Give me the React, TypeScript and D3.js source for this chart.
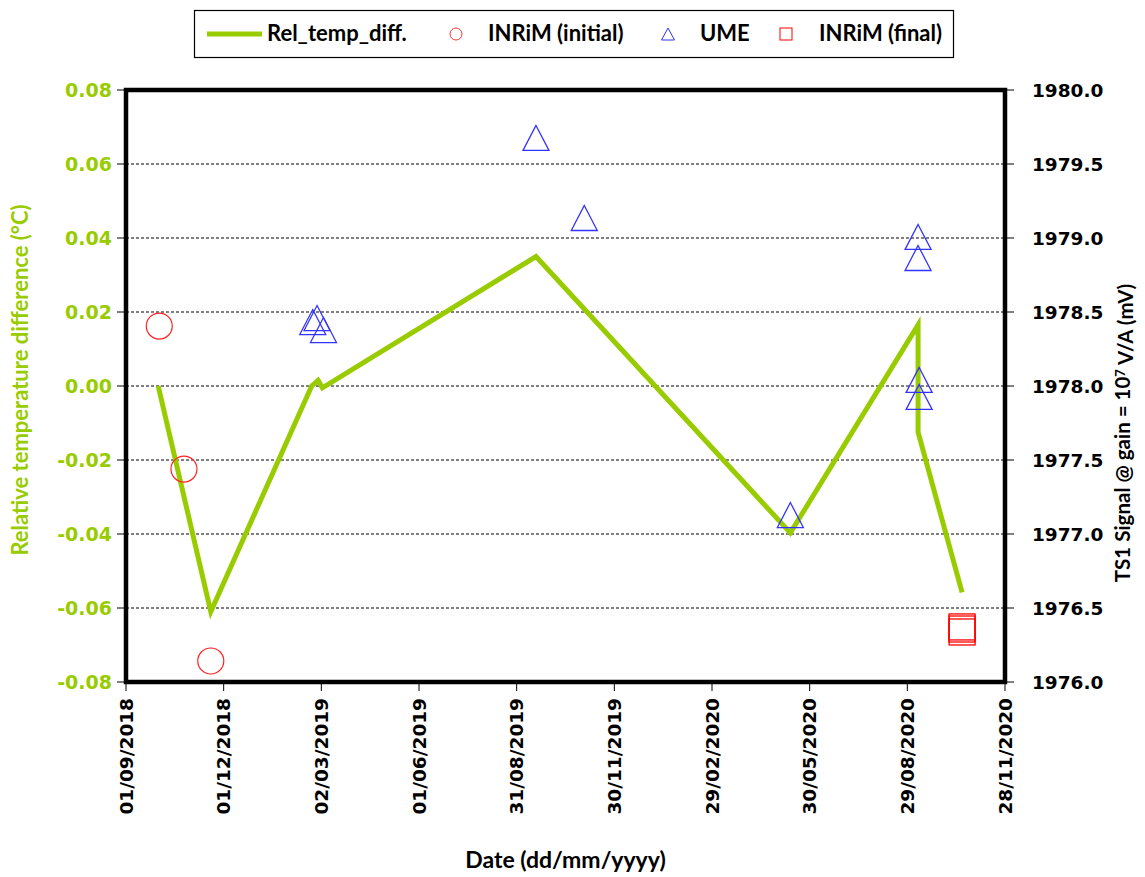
import React from "react";
import * as d3 from "d3";

// Rel_temp_diff. line (left axis, °C)
const lineDates = ["2018-10-01", "2018-11-19", "2019-02-21", "2019-02-27", "2019-03-03", "2019-09-18", "2020-05-12", "2020-09-08", "2020-09-08", "2020-10-19"];
const lineValues = [0.0, -0.061, 0.0, 0.0015, -0.0005, 0.035, -0.0397, 0.0165, -0.0125, -0.0558];

// Markers (right axis, mV)
const inrimInitialDates = ["2018-10-02", "2018-10-25", "2018-11-19"];
const inrimInitialValues = [1978.405, 1977.439, 1976.142];

const umeDates = ["2019-02-22", "2019-02-26", "2019-03-04", "2019-09-18", "2019-11-02", "2020-05-12", "2020-09-08", "2020-09-08", "2020-09-09", "2020-09-09"];
const umeValues = [1978.432, 1978.459, 1978.378, 1979.676, 1979.135, 1977.128, 1979.007, 1978.865, 1978.041, 1977.926];

const inrimFinalDates = ["2020-10-19", "2020-10-19", "2020-10-19"];
const inrimFinalValues = [1976.372, 1976.358, 1976.338];

const leftTicks = [0.08, 0.06, 0.04, 0.02, 0.0, -0.02, -0.04, -0.06, -0.08];
const rightTicks = [1980.0, 1979.5, 1979.0, 1978.5, 1978.0, 1977.5, 1977.0, 1976.5, 1976.0];
const xTickLabels = ["01/09/2018", "01/12/2018", "02/03/2019", "01/06/2019", "31/08/2019", "30/11/2019", "29/02/2020", "30/05/2020", "29/08/2020", "28/11/2020"];

const GREEN = "#99CC00";
const TICK_FONT = "'DejaVu Sans', Verdana, sans-serif";
const TITLE_FONT = "Lato, 'Liberation Sans', Arial, sans-serif";

const parseISO = d3.utcParse("%Y-%m-%d");
const parseDMY = d3.utcParse("%d/%m/%Y");

export default function App() {
  const W = 1145, H = 877;
  const L = 126, R = 1005, T = 90, B = 682;

  const x = d3.scaleUtc()
    .domain([parseDMY(xTickLabels[0])!, parseDMY(xTickLabels[xTickLabels.length - 1])!])
    .range([L, R]);
  const yL = d3.scaleLinear().domain([-0.08, 0.08]).range([B, T]);
  const yR = d3.scaleLinear().domain([1976, 1980]).range([B, T]);

  const linePts: [number, number][] = lineDates.map((d, i) => [x(parseISO(d)!), yL(lineValues[i])]);
  const linePath = d3.line()(linePts) || "";

  const tri = (cx: number, cy: number, w: number, h: number) =>
    `M${cx},${cy - h / 2}L${cx + w / 2},${cy + h / 2}L${cx - w / 2},${cy + h / 2}Z`;

  const legendText = { fontFamily: TITLE_FONT, fontWeight: 700, fontSize: 22, fill: "#000" } as const;

  return (
    <div style={{ position: "absolute", left: 0, top: 0 }}>
      <svg width={W} height={H} style={{ display: "block", background: "#fff" }}>
        {/* Legend */}
        <g>
          <rect x={194.5} y={10.5} width={759} height={47} fill="#fff" stroke="#000" strokeWidth={1.2} />
          <line x1={207} x2={262} y1={34} y2={34} stroke={GREEN} strokeWidth={5} />
          <text x={267} y={41} {...legendText}>Rel_temp_diff.</text>
          <circle cx={456} cy={34} r={6} fill="none" stroke="#FF3333" strokeWidth={1} />
          <text x={488} y={41} {...legendText}>INRiM (initial)</text>
          <path d={tri(668, 34, 13, 12)} fill="none" stroke="#3333FF" strokeWidth={1} />
          <text x={700} y={41} {...legendText}>UME</text>
          <rect x={780} y={28} width={12} height={12} fill="none" stroke="#FF0000" strokeWidth={1} />
          <text x={819} y={41} {...legendText}>INRiM (final)</text>
        </g>

        {/* Gridlines */}
        {leftTicks.filter(t => t !== 0.08 && t !== -0.08).map(t => (
          <line key={"g" + t} x1={L} x2={R} y1={yL(t)} y2={yL(t)} stroke="#000" strokeWidth={1} strokeDasharray="3,2" />
        ))}

        {/* Data line */}
        <path d={linePath} fill="none" stroke={GREEN} strokeWidth={5} strokeLinejoin="miter" />

        {/* Markers */}
        {inrimInitialDates.map((d, i) => (
          <circle key={"c" + i} cx={x(parseISO(d)!)} cy={yR(inrimInitialValues[i])} r={13} fill="none" stroke="#FF2222" strokeWidth={1.2} />
        ))}
        {umeDates.map((d, i) => (
          <path key={"t" + i} d={tri(x(parseISO(d)!), yR(umeValues[i]), 26, 25)} fill="none" stroke="#3333FF" strokeWidth={1.3} />
        ))}
        {inrimFinalDates.map((d, i) => (
          <rect key={"s" + i} x={x(parseISO(d)!) - 13} y={yR(inrimFinalValues[i]) - 13} width={26} height={26} fill="none" stroke="#FF0000" strokeWidth={1.3} />
        ))}

        {/* Frame */}
        <rect x={L} y={T} width={R - L} height={B - T} fill="none" stroke="#000" strokeWidth={4.5} />

        {/* Left ticks */}
        {leftTicks.map(t => (
          <g key={"l" + t}>
            <line x1={L - 9} x2={L} y1={yL(t)} y2={yL(t)} stroke="#000" strokeWidth={1} />
            <text x={L - 14} y={yL(t)} dy="0.36em" textAnchor="end" fontFamily={TICK_FONT} fontWeight="bold" fontSize={19} fill={GREEN}>
              {d3.format(".2f")(t).replace("−", "-")}
            </text>
          </g>
        ))}

        {/* Right ticks */}
        {rightTicks.map(t => (
          <g key={"r" + t}>
            <line x1={R} x2={R + 9} y1={yR(t)} y2={yR(t)} stroke="#000" strokeWidth={1} />
            <text x={R + 27} y={yR(t)} dy="0.36em" textAnchor="start" fontFamily={TICK_FONT} fontWeight="bold" fontSize={18.5} fill="#000">
              {d3.format(".1f")(t)}
            </text>
          </g>
        ))}

        {/* X ticks */}
        {xTickLabels.map(lbl => {
          const xv = x(parseDMY(lbl)!);
          return (
            <g key={lbl}>
              <line x1={xv} x2={xv} y1={B} y2={B + 9} stroke="#000" strokeWidth={1} />
              <text transform={`translate(${xv},${B + 16}) rotate(-90)`} dy="0.36em" textAnchor="end" fontFamily={TICK_FONT} fontWeight="bold" fontSize={18.5} fill="#000">
                {lbl}
              </text>
            </g>
          );
        })}

        {/* Axis titles */}
        <text transform={`translate(20,380) rotate(-90)`} textAnchor="middle" dy="0.35em" fontFamily={TITLE_FONT} fontWeight={700} fontSize={22} fill={GREEN}>
          Relative temperature difference (°C)
        </text>
        <text transform={`translate(1123,433) rotate(-90)`} textAnchor="middle" dy="0.35em" fontFamily={TITLE_FONT} fontWeight={700} fontSize={20.5} fill="#000">
          TS1 Signal @ gain = 10<tspan dy="-0.4em" fontSize={13}>7</tspan><tspan dy="0.4em"> V/A (mV)</tspan>
        </text>
        <text x={(L + R) / 2} y={868} textAnchor="middle" fontFamily={TITLE_FONT} fontWeight={700} fontSize={23} fill="#000">
          Date (dd/mm/yyyy)
        </text>
      </svg>
    </div>
  );
}
